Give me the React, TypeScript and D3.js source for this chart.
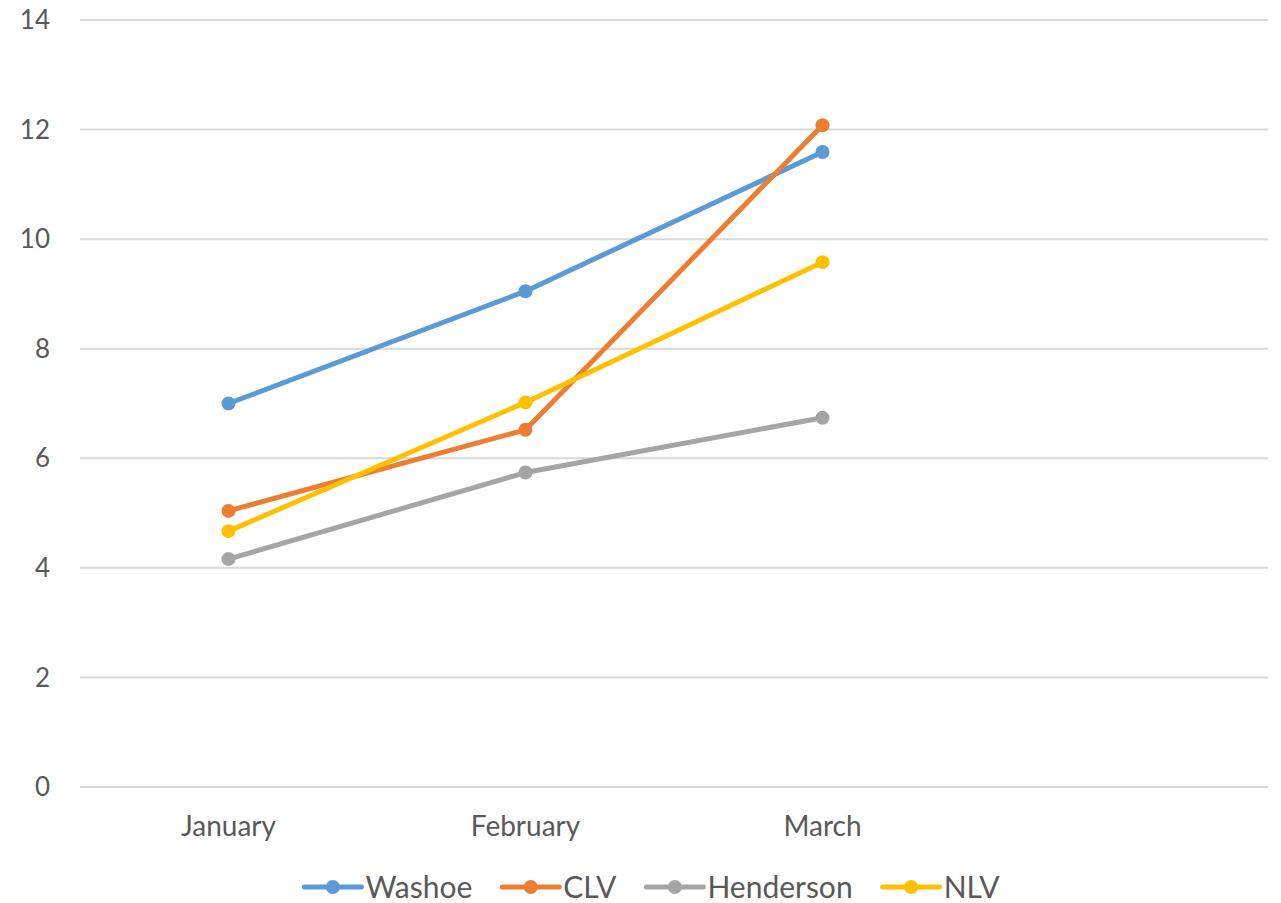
import React, { useEffect, useRef } from "react";
import * as d3 from "d3";

const months = ["January", "February", "March", ""];
const seriesNames = ["Washoe", "CLV", "Henderson", "NLV"];
const seriesColors = ["#5b9bd5", "#ed7d31", "#a5a5a5", "#ffc000"];
const washoe = [7.0, 9.05, 11.59];
const clv = [5.04, 6.52, 12.08];
const henderson = [4.16, 5.74, 6.74];
const nlv = [4.67, 7.02, 9.58];
const yTicks = [0, 2, 4, 6, 8, 10, 12, 14];

const W = 1281, H = 903;
const FONT = "Lato, 'Open Sans', sans-serif";

export default function App() {
  const svgRef = useRef<SVGSVGElement | null>(null);

  useEffect(() => {
    const svg = d3.select(svgRef.current);
    svg.selectAll("*").remove();

    const margin = { top: 20, right: 13, bottom: 116, left: 80 };
    const x = d3.scaleBand().domain(months.map((m, i) => m || "blank" + i))
      .range([margin.left, W - margin.right]);
    const y = d3.scaleLinear().domain([0, 14]).range([H - margin.bottom, margin.top]);
    const keys = x.domain();

    // gridlines
    svg.append("g").selectAll("line").data(yTicks).enter().append("line")
      .attr("x1", margin.left).attr("x2", W - margin.right)
      .attr("y1", d => y(d)).attr("y2", d => y(d))
      .attr("stroke", "#d9d9d9").attr("stroke-width", 2);

    // y labels
    svg.append("g").selectAll("text").data(yTicks).enter().append("text")
      .attr("x", 50).attr("y", d => y(d)).attr("dy", "0.35em")
      .attr("text-anchor", "end").attr("fill", "#595959")
      .attr("font-family", FONT).attr("font-size", 26)
      .text(d => d);

    // x labels
    svg.append("g").selectAll("text").data(months).enter().append("text")
      .attr("x", (d, i) => (x(keys[i]) as number) + x.bandwidth() / 2)
      .attr("y", 836).attr("text-anchor", "middle").attr("fill", "#595959")
      .attr("font-family", FONT).attr("font-size", 28)
      .text(d => d);

    const allSeries = [washoe, clv, henderson, nlv];
    const line = d3.line<number>()
      .x((d, i) => (x(keys[i]) as number) + x.bandwidth() / 2)
      .y(d => y(d));

    allSeries.forEach((vals, s) => {
      const g = svg.append("g");
      g.append("path").attr("d", line(vals) as string)
        .attr("fill", "none").attr("stroke", seriesColors[s])
        .attr("stroke-width", 5).attr("stroke-linejoin", "round").attr("stroke-linecap", "round");
      g.selectAll("circle").data(vals).enter().append("circle")
        .attr("cx", (d, i) => (x(keys[i]) as number) + x.bandwidth() / 2)
        .attr("cy", d => y(d)).attr("r", 7).attr("fill", seriesColors[s]);
    });

    // legend
    const legend = svg.append("g");
    const ly = 887;
    const lineLen = 57;
    const items = seriesNames.map((name, s) => {
      const g = legend.append("g");
      g.append("line").attr("x1", 0).attr("x2", lineLen).attr("y1", 0).attr("y2", 0)
        .attr("stroke", seriesColors[s]).attr("stroke-width", 5).attr("stroke-linecap", "round");
      g.append("circle").attr("cx", lineLen / 2).attr("cy", 0).attr("r", 7).attr("fill", seriesColors[s]);
      const t = g.append("text").attr("x", lineLen + 4).attr("y", 0).attr("dy", "0.35em")
        .attr("fill", "#595959").attr("font-family", FONT).attr("font-size", 30).text(name);
      const w = lineLen + 4 + (t.node() as SVGTextElement).getComputedTextLength();
      return { g, w };
    });
    const gap = 30;
    const total = d3.sum(items, d => d.w) + gap * (items.length - 1);
    let cx = 652 - total / 2;
    items.forEach(it => {
      it.g.attr("transform", `translate(${cx},${ly})`);
      cx += it.w + gap;
    });
  }, []);

  return (
    <svg ref={svgRef} width={W} height={H}
      style={{ position: "absolute", left: 0, top: 0, background: "#fff" }} />
  );
}
